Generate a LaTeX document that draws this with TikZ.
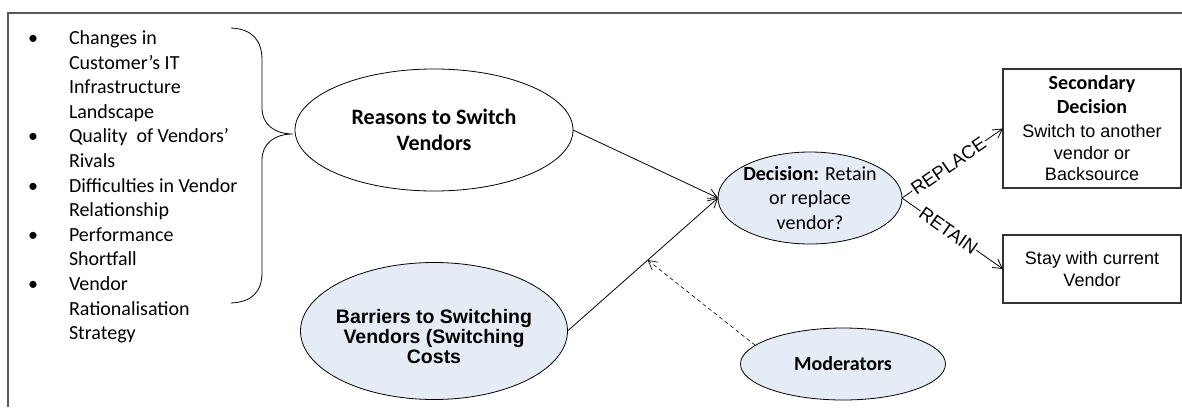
\documentclass[tikz,border=0pt]{standalone}
\usepackage{fontspec}
\setmainfont{Carlito}
\newfontfamily\arialfont{Liberation Sans}
\newfontfamily\calibfont{Carlito}
\usetikzlibrary{shapes.geometric,arrows.meta,calc}
\definecolor{paleblue}{RGB}{230,236,246}

\begin{document}
\begin{tikzpicture}[x=1pt,y=-1pt,
  every node/.style={inner sep=0pt, outer sep=0pt},
  oval/.style={ellipse, draw=black, line width=0.8pt},
  paleoval/.style={oval, fill=paleblue},
  card/.style={rectangle, draw=black!80, line width=1.1pt, minimum width=178pt, align=center,
    font=\arialfont\fontsize{18}{21.5}\selectfont},
  link/.style={line width=0.8pt, -{Straight Barb[length=9pt,width=10pt]}},
  itemtext/.style={anchor=base west, align=left, font=\calibfont\fontsize{20}{24.6}\selectfont},
  bulletmark/.style={anchor=base, font=\calibfont\fontsize{20}{24.6}\selectfont},
  branchlabel/.style={sloped, fill=white, inner sep=0.8pt, font=\arialfont\fontsize{18.5}{20}\selectfont},
]
\useasboundingbox (0,0) rectangle (1182,407);

% outer frame (top and left edges)
\draw[line width=1.5pt, draw=black!65] (8,407) -- (8,13) -- (1182,13);

% bulleted list of switching reasons (each text node sits on its last baseline)
\node[bulletmark] (b1) at (33,44.5) {•};
\node[itemtext] (i1) at (69,118.3) {Changes in\\Customer’s IT\\Infrastructure\\Landscape};
\node[bulletmark] (b2) at (33,142.9) {•};
\node[itemtext] (i2) at (69,167.5) {Quality\ \ of Vendors’\\Rivals};
\node[bulletmark] (b3) at (33,192.1) {•};
\node[itemtext] (i3) at (69,216.7) {Difficulties in Vendor\\Relationship};
\node[bulletmark] (b4) at (33,241.3) {•};
\node[itemtext] (i4) at (69,265.9) {Performance\\Shortfall};
\node[bulletmark] (b5) at (33,290.5) {•};
\node[itemtext] (i5) at (69,339.7) {Vendor\\Rationalisation\\Strategy};

% curly brace gathering the list
\draw[line width=0.8pt] (231,28) .. controls (252,29) and (262,40) .. (262,60) -- (262,108)
  .. controls (262,124) and (274,134) .. (293,134)
  .. controls (274,134) and (262,144) .. (262,160) -- (262,272)
  .. controls (262,292) and (252,302) .. (231,303);

% ellipses
\node[oval, minimum width=278pt, minimum height=122pt] (reasons) at (434,130) {};
\node[align=center, font=\calibfont\bfseries\fontsize{22}{26}\selectfont] (reasonsT) at (reasons.center) {Reasons to Switch\\Vendors};

\node[paleoval, minimum width=267pt, minimum height=137pt] (barriers) at (434,331) {};
\node[align=center, font=\arialfont\bfseries\fontsize{19.5}{20}\selectfont] (barriersT) at (434,337) {Barriers to Switching\\Vendors (Switching\\Costs};

\node[paleoval, minimum width=184pt, minimum height=92pt] (decision) at (810,198) {};
\node[align=center, font=\calibfont\fontsize{20}{24.5}\selectfont] (decisionT) at (decision.center) {\textbf{Decision:} Retain\\or replace\\vendor?};

\node[paleoval, minimum width=205pt, minimum height=72pt] (moderators) at (843,364) {};
\node[font=\calibfont\bfseries\fontsize{20}{24}\selectfont] (moderatorsT) at (moderators.center) {Moderators};

% outcome boxes
\node[card, minimum height=119pt] (secondary) at (1092,128.5)
  {\calibfont\bfseries\fontsize{20}{24}\selectfont Secondary\\[2.5pt]\calibfont\bfseries\fontsize{20}{24}\selectfont Decision\\[2.5pt]Switch to another\\vendor or\\Backsource};
\node[card, minimum height=68pt] (stay) at (1092,269) {Stay with current\\Vendor};

% connectors
\draw[link] (reasons.east) -- (decision.west);
\draw[link] (barriers.east) -- coordinate[pos=0.533] (mid) (decision.west);
\draw[link, dashed, dash pattern=on 4pt off 3pt, line width=0.6pt] (moderators.168) -- (mid);
\draw[link] (decision.east) -- node[branchlabel, pos=0.46] (replaceL) {REPLACE} (secondary.west);
\draw[link] (decision.east) -- node[branchlabel, pos=0.46] (retainL) {RETAIN} (stay.west);
\end{tikzpicture}
\end{document}
